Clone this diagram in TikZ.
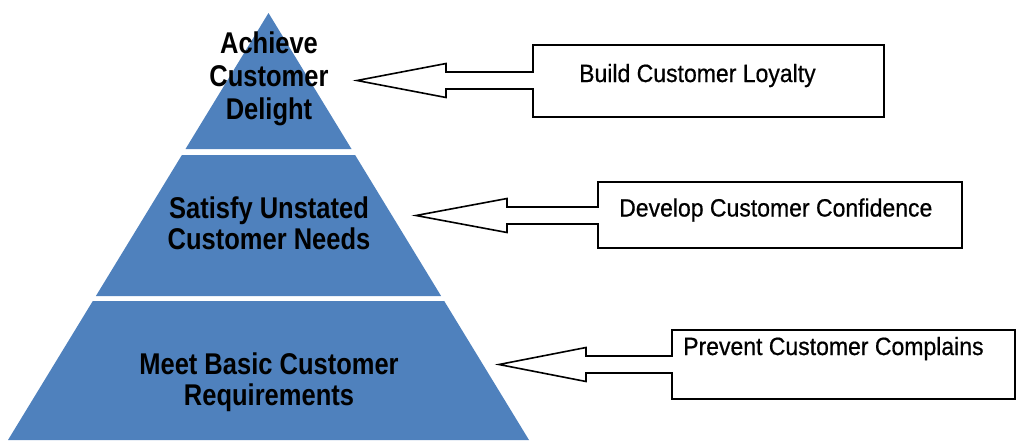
\documentclass[tikz,border=0pt]{standalone}
\usepackage{fontspec}
\setmainfont{Liberation Sans}
\newfontfamily\pyrfont{Liberation Sans}[FakeStretch=0.85]
\newfontfamily\boxfont{Liberation Sans}[FakeStretch=0.92, FakeBold=0.6]
\definecolor{pyrblue}{HTML}{4F81BD}
\tikzset{
  band/.style={fill=pyrblue, draw=none},
  pyrtext/.style={font=\pyrfont\bfseries\fontsize{30}{31}\selectfont, align=center, inner sep=0pt},
  callout/.style={draw=black, line width=1.6pt, fill=white, line join=miter},
  calltext/.style={font=\boxfont\fontsize{25}{30}\selectfont, anchor=base west, inner sep=0pt}
}
\begin{document}
\begin{tikzpicture}[x=1pt, y=-1pt]
\useasboundingbox (0,0) rectangle (1017,440);

% pyramid levels (apex at 268.5,13; base 8..529 at y=440)
\path[band] (268.5,13) -- (351.5,149) -- (185.5,149) -- cycle;
\path[band] (181.9,155) -- (355.1,155) -- (441.1,296) -- (95.9,296) -- cycle;
\path[band] (92.8,301) -- (444.2,301) -- (529,440) -- (8,440) -- cycle;

\node[pyrtext, font=\pyrfont\bfseries\fontsize{30}{33}\selectfont] (delight) at (269,79) {Achieve\\Customer\\Delight};
\node[pyrtext] (needs) at (269,223) {Satisfy Unstated\\Customer Needs};
\node[pyrtext] (basic) at (269,382) {Meet Basic Customer\\Requirements};

% arrow callouts
\coordinate (tipA) at (357,80.5);
\draw[callout] (533,45) -- (884,45) -- (884,117) -- (533,117) -- (533,89) -- (446,89)
  -- (446,97.5) -- (tipA) -- (446,63.5) -- (446,72) -- (533,72) -- cycle;
\node[calltext] (loyalty) at (579,82) {Build Customer Loyalty};

\coordinate (tipB) at (416,215.5);
\draw[callout] (598,182) -- (962,182) -- (962,248) -- (598,248) -- (598,224) -- (507,224)
  -- (507,232.5) -- (tipB) -- (507,198.5) -- (507,207) -- (598,207) -- cycle;
\node[calltext] (confidence) at (619,216.5) {Develop Customer Confidence};

\coordinate (tipC) at (499,364.5);
\draw[callout] (672,330) -- (1015,330) -- (1015,399) -- (672,399) -- (672,373) -- (586,373)
  -- (586,381.5) -- (tipC) -- (586,347.5) -- (586,356) -- (672,356) -- cycle;
\node[calltext] (complains) at (683,355) {Prevent Customer Complains};
\end{tikzpicture}
\end{document}
